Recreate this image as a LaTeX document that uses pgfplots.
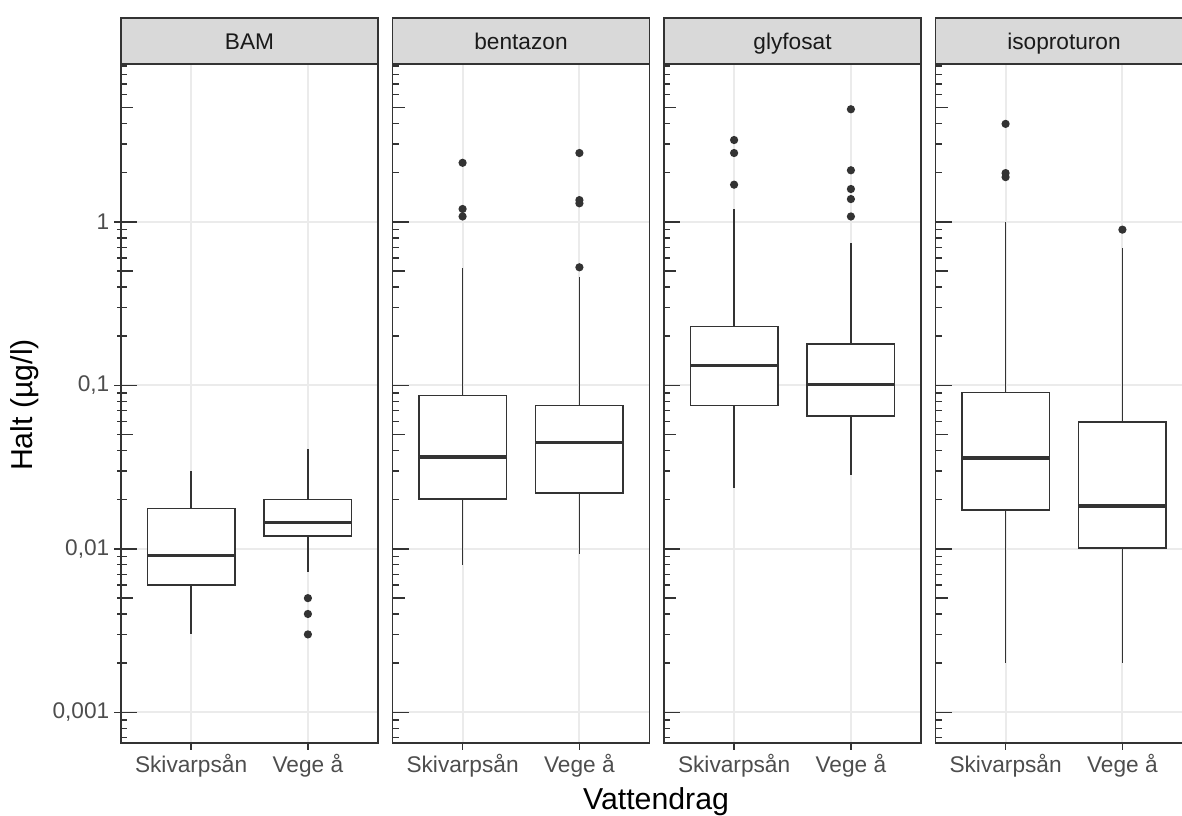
\documentclass[border=0pt]{standalone}
\usepackage{pgfplots}
\pgfplotsset{compat=1.18}
\usepgfplotslibrary{statistics}
\usepackage{fontspec}
\setmainfont{Liberation Sans}
\definecolor{g20}{HTML}{333333}
\definecolor{g30}{HTML}{4D4D4D}
\definecolor{g92}{HTML}{EBEBEB}
\definecolor{g85}{HTML}{D9D9D9}
\definecolor{g10}{HTML}{1A1A1A}
\newcommand{\ticksz}{\fontsize{17}{20}\selectfont}
\newcommand{\titlesz}{\fontsize{22.7}{27}\selectfont}
\newcommand{\beginpanel}[2]{\begin{axis}[
    scale only axis, width=192.75pt, height=509.25pt, anchor=south west,
    ymode=log, ymin=0.00065, ymax=9.25,
    xmin=0.4, xmax=2.6, xtick={1,2}, xticklabels={Skivarpsån, Vege å},
    ytick={0.001,0.01,0.1,1},
    tick align=outside, major tick length=5.25pt, tick pos=left,
    tick style={g20, line width=1.1pt},
    xticklabel style={font=\ticksz, text=g30},
    yticklabel style={font=\ticksz, text=g30},
    grid=major, major grid style={g92, line width=1.5pt},
    axis line style={g20, line width=1.1pt},
    clip=false, at={#1}, #2]}
\newcommand{\logticks}{%
  \pgfplotsinvokeforeach{0.0007,0.0008,0.0009,0.002,0.003,0.004,0.006,0.007,0.008,0.009,0.02,0.03,0.04,0.06,0.07,0.08,0.09,0.2,0.3,0.4,0.6,0.7,0.8,0.9,2,3,4,6,7,8,9}{\draw[g20,line width=1.1pt] (axis cs:0.4,##1) -- ++(4.5pt,0pt);}
  \pgfplotsinvokeforeach{0.005,0.05,0.5,5}{\draw[g20,line width=1.1pt] (axis cs:0.4,##1) -- ++(9pt,0pt);}
  \pgfplotsinvokeforeach{0.001,0.01,0.1,1}{\draw[g20,line width=1.1pt] (axis cs:0.4,##1) -- ++(12pt,0pt);}
}
\newcommand{\strip}[1]{%
  \draw[g20, fill=g85, line width=1.1pt] (rel axis cs:0,1) rectangle (rel axis cs:1,1.0677);
  \node[font=\ticksz, text=g10, anchor=base] at (rel axis cs:0.5,1.0206) {#1};
}
\begin{document}
\begin{tikzpicture}
% ---------- BAM ----------
\beginpanel{(90.75pt,54.75pt)}{yticklabels={{0,001},{0,01},{0,1},{1}}}
\addplot[draw=g20, line width=1.1pt, fill=white, mark=*, mark size=2.5pt, mark options={fill=g20, draw=g20}, boxplot/draw direction=y, boxplot/every median/.style={line width=2.3pt}, boxplot/every whisker/.style={line width=1.1pt}, boxplot prepared={lower whisker=0.003, lower quartile=0.006, median=0.0091, upper quartile=0.0177, upper whisker=0.0301, draw position=1, box extend=0.75, whisker extend=0}] coordinates {};
\addplot[draw=g20, line width=1.1pt, fill=white, mark=*, mark size=2.5pt, mark options={fill=g20, draw=g20}, boxplot/draw direction=y, boxplot/every median/.style={line width=2.3pt}, boxplot/every whisker/.style={line width=1.1pt}, boxplot prepared={lower whisker=0.0072, lower quartile=0.012, median=0.0145, upper quartile=0.020, upper whisker=0.0407, draw position=2, box extend=0.75, whisker extend=0}] coordinates {(0,0.005) (0,0.004) (0,0.003)};
\logticks
\strip{BAM}
\end{axis}
% ---------- bentazon ----------
\beginpanel{(294.375pt,54.75pt)}{yticklabels={}, ytick style={draw=none}}
\addplot[draw=g20, line width=1.1pt, fill=white, mark=*, mark size=2.5pt, mark options={fill=g20, draw=g20}, boxplot/draw direction=y, boxplot/every median/.style={line width=2.3pt}, boxplot/every whisker/.style={line width=1.1pt}, boxplot prepared={lower whisker=0.008, lower quartile=0.0202, median=0.0365, upper quartile=0.0866, upper whisker=0.521, draw position=1, box extend=0.75, whisker extend=0}] coordinates {(0,2.30) (0,1.20) (0,1.08)};
\addplot[draw=g20, line width=1.1pt, fill=white, mark=*, mark size=2.5pt, mark options={fill=g20, draw=g20}, boxplot/draw direction=y, boxplot/every median/.style={line width=2.3pt}, boxplot/every whisker/.style={line width=1.1pt}, boxplot prepared={lower whisker=0.0093, lower quartile=0.022, median=0.0447, upper quartile=0.0752, upper whisker=0.459, draw position=2, box extend=0.75, whisker extend=0}] coordinates {(0,2.64) (0,1.36) (0,1.30) (0,0.528)};
\logticks
\strip{bentazon}
\end{axis}
% ---------- glyfosat ----------
\beginpanel{(498pt,54.75pt)}{yticklabels={}, ytick style={draw=none}}
\addplot[draw=g20, line width=1.1pt, fill=white, mark=*, mark size=2.5pt, mark options={fill=g20, draw=g20}, boxplot/draw direction=y, boxplot/every median/.style={line width=2.3pt}, boxplot/every whisker/.style={line width=1.1pt}, boxplot prepared={lower whisker=0.0236, lower quartile=0.0752, median=0.1316, upper quartile=0.229, upper whisker=1.20, draw position=1, box extend=0.75, whisker extend=0}] coordinates {(0,3.17) (0,2.64) (0,1.69)};
\addplot[draw=g20, line width=1.1pt, fill=white, mark=*, mark size=2.5pt, mark options={fill=g20, draw=g20}, boxplot/draw direction=y, boxplot/every median/.style={line width=2.3pt}, boxplot/every whisker/.style={line width=1.1pt}, boxplot prepared={lower whisker=0.0284, lower quartile=0.0651, median=0.1007, upper quartile=0.1794, upper whisker=0.741, draw position=2, box extend=0.75, whisker extend=0}] coordinates {(0,4.89) (0,2.07) (0,1.59) (0,1.38) (0,1.08)};
\logticks
\strip{glyfosat}
\end{axis}
% ---------- isoproturon ----------
\beginpanel{(701.625pt,54.75pt)}{yticklabels={}, ytick style={draw=none}}
\addplot[draw=g20, line width=1.1pt, fill=white, mark=*, mark size=2.5pt, mark options={fill=g20, draw=g20}, boxplot/draw direction=y, boxplot/every median/.style={line width=2.3pt}, boxplot/every whisker/.style={line width=1.1pt}, boxplot prepared={lower whisker=0.002, lower quartile=0.0173, median=0.036, upper quartile=0.0903, upper whisker=1.0, draw position=1, box extend=0.75, whisker extend=0}] coordinates {(0,3.98) (0,1.99) (0,1.88)};
\addplot[draw=g20, line width=1.1pt, fill=white, mark=*, mark size=2.5pt, mark options={fill=g20, draw=g20}, boxplot/draw direction=y, boxplot/every median/.style={line width=2.3pt}, boxplot/every whisker/.style={line width=1.1pt}, boxplot prepared={lower whisker=0.002, lower quartile=0.0101, median=0.0183, upper quartile=0.0598, upper whisker=0.69, draw position=2, box extend=0.75, whisker extend=0}] coordinates {(0,0.897)};
\logticks
\strip{isoproturon}
\end{axis}
\node[font=\titlesz, text=black] at (492pt,11pt) {Vattendrag};
\node[font=\titlesz, text=black, rotate=90] at (18.75pt,308.25pt) {Halt (µg/l)};
\pgfresetboundingbox
\path[use as bounding box] (0,0) rectangle (886.5pt,612pt);
\end{tikzpicture}
\end{document}
